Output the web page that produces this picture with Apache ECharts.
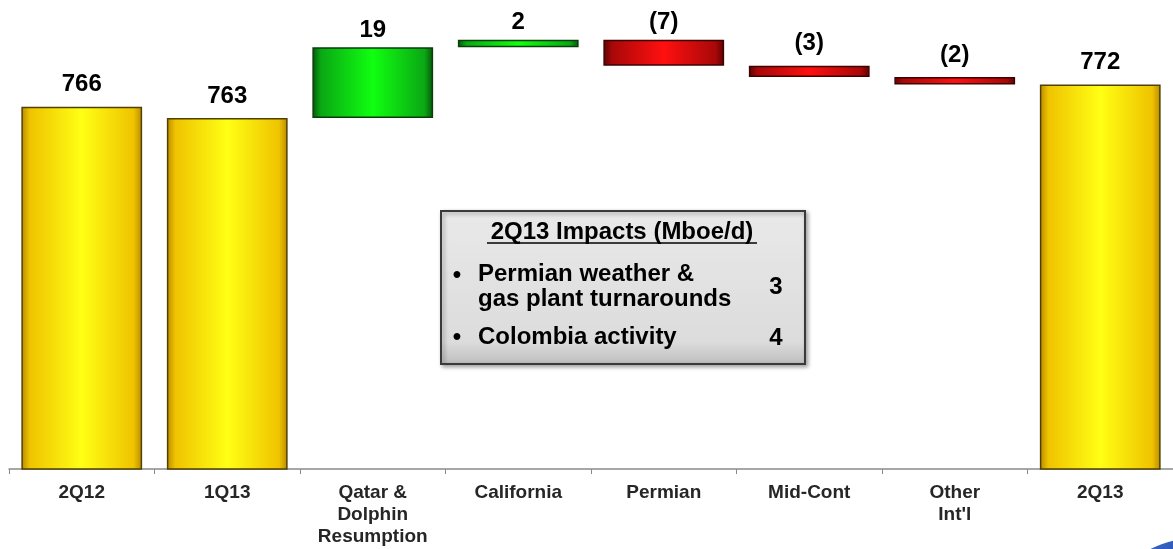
<!DOCTYPE html>
<html>
<head>
<meta charset="utf-8">
<script src="https://cdn.jsdelivr.net/npm/echarts@6/dist/echarts.min.js"></script>
<style>
  html, body { margin: 0; padding: 0; background: #ffffff; }
  #chart { width: 1173px; height: 549px; }
</style>
</head>
<body>
<div id="chart"></div>
<script>
// Production bridge, Mboe/d
const categories = ['2Q12', '1Q13', 'Qatar &\nDolphin\nResumption', 'California', 'Permian', 'Mid-Cont', 'Other\nInt\'l', '2Q13'];
const totalValues = [766, 763, null, null, null, null, null, 772];
const changeValues = [null, null, 19, 2, -7, -3, -2, null];

const impactTitle = '2Q13 Impacts (Mboe/d)';
const impactLines = [['Permian weather &', 'gas plant turnarounds'], ['Colombia activity']];
const impactValues = [3, 4];

// Build the floating waterfall pieces from the running level
const baseData = [], totalData = [], upData = [], downData = [];
let level = 0;
categories.forEach((c, i) => {
  if (totalValues[i] != null) {
    level = totalValues[i];
    baseData.push('-'); totalData.push(totalValues[i]); upData.push('-'); downData.push('-');
  } else {
    const d = changeValues[i];
    totalData.push('-');
    if (d >= 0) {
      baseData.push(level); upData.push(d); downData.push('-');
      level += d;
    } else {
      level += d;
      baseData.push(level); downData.push(-d); upData.push('-');
    }
  }
});

const FONT = '"Liberation Sans", Arial, Helvetica, sans-serif';
// labels that sit a little closer to their bar near the top edge
const tightLabel = new Set([2, 3, 4]);

function hGrad(edge, inner, mid) {
  return new echarts.graphic.LinearGradient(0, 0, 1, 0, [
    { offset: 0, color: edge },
    { offset: 0.07, color: inner },
    { offset: 0.5, color: mid },
    { offset: 0.93, color: inner },
    { offset: 1, color: edge }
  ]);
}

function withLabels(arr, fmt) {
  return arr.map((v, i) => {
    if (v === '-') return v;
    return {
      value: v,
      label: { distance: tightLabel.has(i) ? 5 : 10, formatter: fmt(v) }
    };
  });
}

const labelStyle = {
  show: true,
  position: 'top',
  color: '#000',
  fontFamily: FONT,
  fontWeight: 'bold',
  fontSize: 24
};

const chart = echarts.init(document.getElementById('chart'), null, { renderer: 'canvas' });

const boxX = 441, boxY = 211, boxW = 364, boxH = 153;
const boxFont = 'bold 24px ' + FONT;

chart.setOption({
  animation: false,
  backgroundColor: '#ffffff',
  grid: { left: 9, top: 0, width: 1170, height: 469, containLabel: false },
  xAxis: {
    type: 'category',
    data: categories,
    axisLine: { lineStyle: { color: '#8a8a8a', width: 1.5 } },
    axisTick: { show: true, length: 5, lineStyle: { color: '#8a8a8a' } },
    axisLabel: {
      color: '#262626',
      fontFamily: FONT,
      fontWeight: 'bold',
      fontSize: 19,
      lineHeight: 22,
      margin: 13,
      interval: 0
    }
  },
  yAxis: {
    type: 'value',
    min: 668.6,
    max: 794.7,
    show: false,
    splitLine: { show: false }
  },
  series: [
    {
      name: 'base', type: 'bar', stack: 'w', data: baseData,
      itemStyle: { color: 'rgba(0,0,0,0)' }, silent: true, barWidth: '83%'
    },
    {
      name: 'total', type: 'bar', stack: 'w', barWidth: '83%',
      data: withLabels(totalData, v => String(v)),
      itemStyle: { color: hGrad('#b88a00', '#efc300', '#ffff14'), borderColor: '#4f4004', borderWidth: 1.5 },
      label: labelStyle
    },
    {
      name: 'up', type: 'bar', stack: 'w', barWidth: '83%',
      data: withLabels(upData, v => String(v)),
      itemStyle: { color: hGrad('#05560a', '#0aa814', '#10ff10'), borderColor: '#0b3d0b', borderWidth: 1.5 },
      label: labelStyle
    },
    {
      name: 'down', type: 'bar', stack: 'w', barWidth: '83%',
      data: withLabels(downData, v => '(' + v + ')'),
      itemStyle: { color: hGrad('#5a0303', '#a80808', '#ff1010'), borderColor: '#3d0303', borderWidth: 1.5 },
      label: labelStyle
    }
  ],
  graphic: [
    {
      type: 'rect', z: 100,
      shape: { x: boxX, y: boxY, width: boxW, height: boxH },
      style: {
        fill: new echarts.graphic.LinearGradient(0, 0, 0, 1, [
          { offset: 0, color: '#e9e9e9' },
          { offset: 0.85, color: '#dcdcdc' },
          { offset: 1, color: '#bdbdbd' }
        ]),
        stroke: '#3a3a3a', lineWidth: 2,
        shadowBlur: 4, shadowOffsetX: 2, shadowOffsetY: 2, shadowColor: 'rgba(0,0,0,0.35)'
      }
    },
    {
      type: 'text', z: 101, x: boxX + 181, y: boxY + 21,
      style: { text: impactTitle, font: boxFont, fill: '#000', textAlign: 'center', textVerticalAlign: 'middle' }
    },
    {
      type: 'line', z: 101,
      shape: { x1: boxX + 46, y1: boxY + 32, x2: boxX + 316, y2: boxY + 32 },
      style: { stroke: '#000', lineWidth: 1.5 }
    },
    {
      type: 'text', z: 101, x: boxX + 16, y: boxY + 64,
      style: { text: '•', font: boxFont, fill: '#000', textAlign: 'center', textVerticalAlign: 'middle' }
    },
    {
      type: 'text', z: 101, x: boxX + 37, y: boxY + 76,
      style: { text: impactLines[0].join('\n'), font: boxFont, lineHeight: 25, fill: '#000', textAlign: 'left', textVerticalAlign: 'middle' }
    },
    {
      type: 'text', z: 101, x: boxX + 335, y: boxY + 76,
      style: { text: String(impactValues[0]), font: boxFont, fill: '#000', textAlign: 'center', textVerticalAlign: 'middle' }
    },
    {
      type: 'text', z: 101, x: boxX + 16, y: boxY + 126,
      style: { text: '•', font: boxFont, fill: '#000', textAlign: 'center', textVerticalAlign: 'middle' }
    },
    {
      type: 'text', z: 101, x: boxX + 37, y: boxY + 126,
      style: { text: impactLines[1].join('\n'), font: boxFont, fill: '#000', textAlign: 'left', textVerticalAlign: 'middle' }
    },
    {
      type: 'text', z: 101, x: boxX + 335, y: boxY + 127,
      style: { text: String(impactValues[1]), font: boxFont, fill: '#000', textAlign: 'center', textVerticalAlign: 'middle' }
    },
    {
      // corner swoosh
      type: 'ellipse', z: 50,
      shape: { cx: 1230, cy: 572, rx: 100, ry: 38 },
      style: {
        fill: new echarts.graphic.LinearGradient(0, 0, 1, 1, [
          { offset: 0, color: '#3d6fd0' },
          { offset: 0.5, color: '#1f3f9e' },
          { offset: 1, color: '#0f2470' }
        ])
      }
    }
  ]
});
</script>
</body>
</html>
